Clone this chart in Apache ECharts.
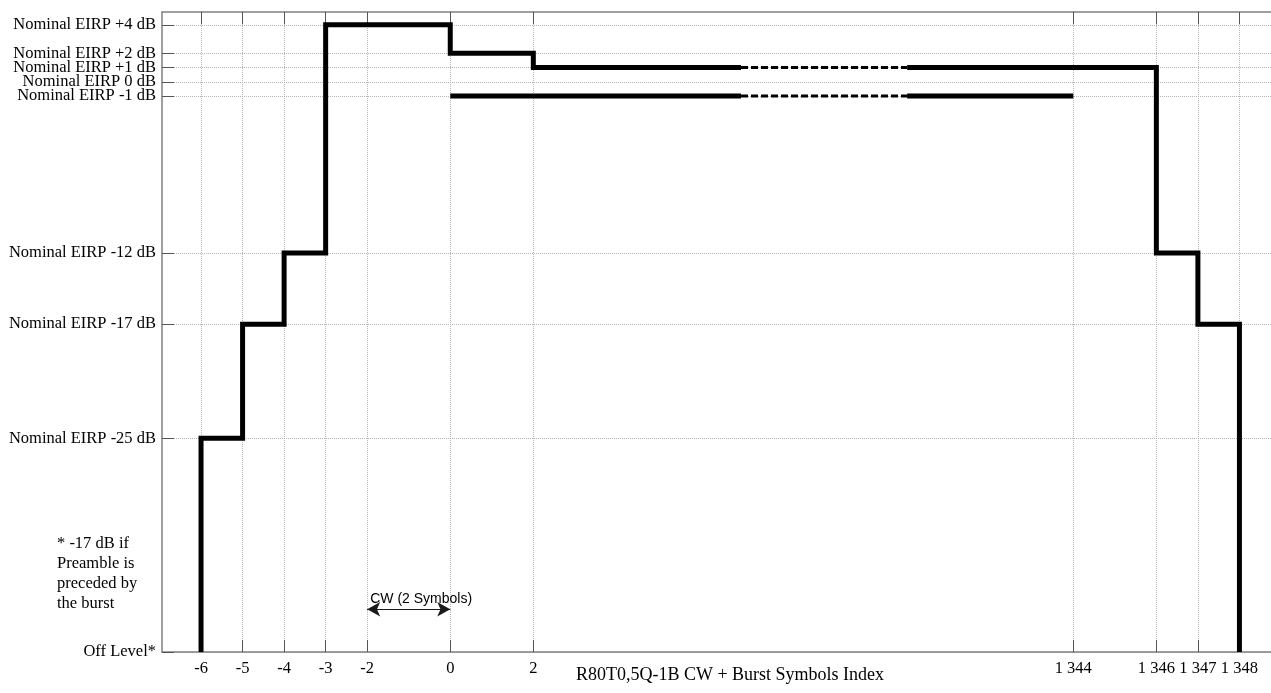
<!DOCTYPE html>
<html>
<head>
<meta charset="utf-8">
<script src="https://cdn.jsdelivr.net/npm/echarts@6/dist/echarts.min.js"></script>
<style>
  html, body { margin: 0; padding: 0; background: #fff; }
  #chart { width: 1271px; height: 693px; }
</style>
</head>
<body>
<div id="chart"></div>
<script>
// Symbol indices marked on the horizontal axis
const symbolTicks = [-6, -5, -4, -3, -2, 0, 2, 1344, 1346, 1347, 1348];
// Power levels (dB relative to nominal EIRP) marked on the vertical axis
const levelTicks = [4, 2, 1, 0, -1, -12, -17, -25, -40];
const OFF_LEVEL = -40;

// Upper mask: ramp-up, CW, burst and ramp-down (symbol index / dB)
const upperSymbols = [-6, -6, -5, -5, -4, -4, -3, -3, 0, 0, 2, 2, 1346, 1346, 1347, 1347, 1348, 1348];
const upperLevels  = [-40, -25, -25, -17, -17, -12, -12, 4, 4, 2, 2, 1, 1, -12, -12, -17, -17, -40];

// Lower mask during the burst
const lowerSymbols = [0, 1344];
const lowerLevels  = [-1, -1];

// CW duration marker
const cwSymbols = [-2, 0];
const cwLevel = -37;
const cwLabel = 'CW (2 Symbols)';

const footnote = ['* -17 dB if', 'Preamble is', 'preceded by', 'the burst'];
const xTitle = 'R80T0,5Q-1B CW + Burst Symbols Index';

// The long burst is shortened on the axis: symbols after 2 are shifted so
// that 1344 sits 13 slots after 2; slots 7..11 are drawn dashed.
const SHIFT = 1329;
const ELIDED = [7, 11];
const slot = s => (s > 2 ? s - SHIFT : s);
const unslot = v => (v > 2 ? v + SHIFT : v);
const fmtSymbol = v => String(unslot(Math.round(v))).replace(/\B(?=(\d{3})+(?!\d))/g, ' ');
const fmtLevel = v => v === OFF_LEVEL ? 'Off Level*' :
  'Nominal EIRP ' + (v > 0 ? '+' + v : String(v)) + ' dB';

// Break a step path into solid pieces and dashed pieces across the shortened stretch
function splitPath(symbols, levels) {
  const pts = symbols.map((s, i) => [slot(s), levels[i]]);
  const solids = [[pts[0]]];
  const dashed = [];
  for (let i = 1; i < pts.length; i++) {
    const a = pts[i - 1], b = pts[i];
    const cur = solids[solids.length - 1];
    if (a[1] === b[1] && a[0] < ELIDED[0] && b[0] > ELIDED[1]) {
      cur.push([ELIDED[0], a[1]]);
      dashed.push([[ELIDED[0], a[1]], [ELIDED[1], a[1]]]);
      solids.push([[ELIDED[1], a[1]], b]);
    } else {
      cur.push(b);
    }
  }
  return { solids, dashed };
}

const serif = '"Liberation Serif", "Times New Roman", serif';
const series = [];
[splitPath(upperSymbols, upperLevels), splitPath(lowerSymbols, lowerLevels)].forEach(p => {
  p.solids.forEach(d => series.push({
    type: 'line', data: d, showSymbol: false, silent: true, z: 5,
    lineStyle: { color: '#000', width: 5, join: 'miter', cap: 'butt' }
  }));
  p.dashed.forEach(d => series.push({
    type: 'line', data: d, showSymbol: false, silent: true, z: 5,
    lineStyle: { color: '#000', width: 3, type: [7, 3], cap: 'butt' }
  }));
});

// Double-headed CW arrow with its caption
series.push({
  type: 'line', data: [], silent: true,
  markLine: {
    silent: true, animation: false,
    symbol: ['arrow', 'arrow'], symbolSize: [11, 13],
    lineStyle: { color: '#1a1a1a', width: 1, type: 'solid' },
    label: {
      show: true, position: 'insideStartTop', distance: 3,
      formatter: cwLabel, color: '#000',
      fontFamily: '"Liberation Sans", Arial, sans-serif', fontSize: 14
    },
    data: [[{ coord: [slot(cwSymbols[0]), cwLevel] }, { coord: [slot(cwSymbols[1]), cwLevel] }]]
  }
});

const X_MIN = -6.94, X_MAX = 19.76;
const xTickSlots = symbolTicks.map(slot);
const axisGray = '#808080';

const chart = echarts.init(document.getElementById('chart'), null, { renderer: 'canvas' });
chart.setOption({
  animation: false,
  backgroundColor: '#fff',
  grid: { left: 162, right: 0, top: 12, bottom: 41, containLabel: false },
  xAxis: [{
    type: 'value', min: X_MIN, max: X_MAX, position: 'bottom',
    axisLine: { show: true, onZero: false, lineStyle: { color: axisGray, width: 1.5 } },
    axisTick: { show: true, inside: true, length: 12, customValues: xTickSlots,
      lineStyle: { color: '#555', width: 1 } },
    axisLabel: { show: true, customValues: xTickSlots, formatter: fmtSymbol, margin: 8,
      color: '#000', fontFamily: serif, fontSize: 16.5 },
    splitLine: { show: true, lineStyle: { color: '#b5b5b5', type: 'dotted', width: 1 } }
  }, {
    type: 'value', min: X_MIN, max: X_MAX, position: 'top',
    axisLine: { show: true, onZero: false, lineStyle: { color: axisGray, width: 1.5 } },
    axisTick: { show: true, inside: true, length: 12, customValues: xTickSlots,
      lineStyle: { color: '#555', width: 1 } },
    axisLabel: { show: false },
    splitLine: { show: false }
  }],
  yAxis: {
    type: 'value', min: OFF_LEVEL, max: 4.9,
    axisLine: { show: true, onZero: false, lineStyle: { color: axisGray, width: 1.5 } },
    axisTick: { show: true, inside: true, length: 12, customValues: levelTicks,
      lineStyle: { color: '#555', width: 1 } },
    axisLabel: { show: true, customValues: levelTicks, formatter: fmtLevel, margin: 6,
      color: '#000', fontFamily: serif, fontSize: 16.5 },
    splitLine: { show: true, lineStyle: { color: '#b5b5b5', type: 'dotted', width: 1 } }
  },
  graphic: [{
    type: 'text', left: 57, top: 534, silent: true,
    style: { text: footnote.join('\n'), fill: '#000', font: '16.5px ' + serif, lineHeight: 20 }
  }, {
    type: 'text', x: 730, y: 675, silent: true,
    style: { text: xTitle, fill: '#000', font: '18px ' + serif, align: 'center', verticalAlign: 'middle' }
  }],
  series: series
});
</script>
</body>
</html>
